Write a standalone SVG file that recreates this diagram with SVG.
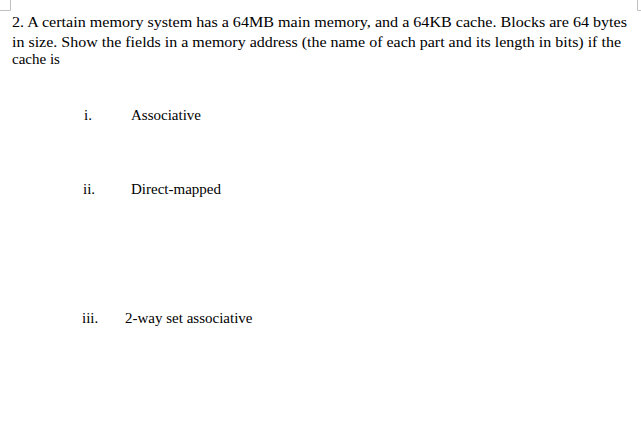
<svg xmlns="http://www.w3.org/2000/svg" width="641" height="445" viewBox="0 0 641 445">
<style>text{font-family:"Liberation Serif","Times New Roman",serif;font-size:15px;fill:#000}.m{stroke:#c0c0c0;stroke-width:1;fill:none}</style>
<rect width="641" height="445" fill="#fff"/>
<path class="m" d="M10.5 0V10.5H0M637.5 0V10.5H641"/>
<text x="12" y="27" textLength="615" lengthAdjust="spacingAndGlyphs">2. A certain memory system has a 64MB main memory, and a 64KB cache. Blocks are 64 bytes</text>
<text x="12" y="47" textLength="609" lengthAdjust="spacingAndGlyphs">in size. Show the fields in a memory address (the name of each part and its length in bits) if the</text>
<text x="12" y="64">cache is</text>
<text x="84" y="120">i.</text><text x="131" y="120">Associative</text>
<text x="83" y="194">ii.</text><text x="131" y="194">Direct-mapped</text>
<text x="82" y="323">iii.</text><text x="125" y="323">2-way set associative</text>
</svg>
